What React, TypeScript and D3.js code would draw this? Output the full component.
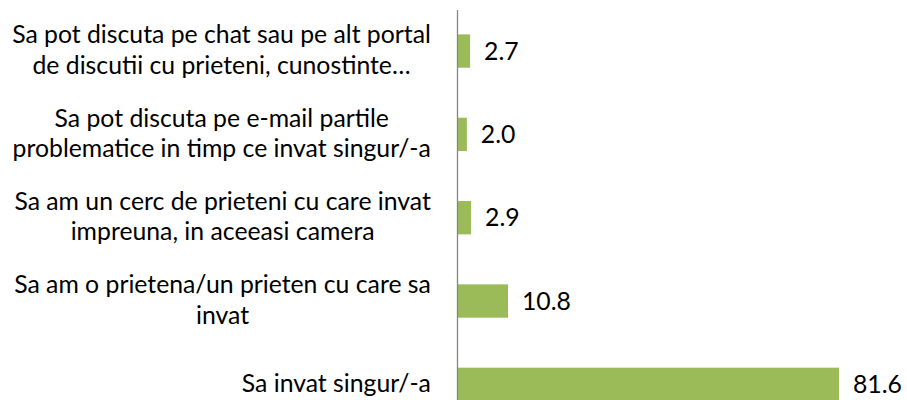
import React, { useEffect, useRef } from "react";
import * as d3 from "d3";

const categories = [
  "Sa pot discuta pe chat sau pe alt portal de discutii cu prieteni, cunostinte…",
  "Sa pot discuta pe e-mail partile problematice in timp ce invat singur/-a",
  "Sa am un cerc de prieteni cu care invat impreuna, in aceeasi camera",
  "Sa am o prietena/un prieten cu care sa invat",
  "Sa invat singur/-a",
];
const categoryLines = [
  ["Sa pot discuta pe chat sau pe alt portal", "de discutii cu prieteni, cunostinte…"],
  ["Sa pot discuta pe e-mail partile", "problematice in timp ce invat singur/-a"],
  ["Sa am un cerc de prieteni cu care invat", "impreuna, in aceeasi camera"],
  ["Sa am o prietena/un prieten cu care sa", "invat"],
  ["Sa invat singur/-a"],
];
const values = [2.7, 2.0, 2.9, 10.8, 81.6];

const W = 907;
const H = 400;
const FONT = "Lato, Carlito, Calibri, 'Open Sans', sans-serif";

function draw(el: SVGSVGElement) {
  const svg = d3.select(el);
  svg.selectAll("*").remove();

  const axisX = 457.5;
  const x = d3.scaleLinear().domain([0, 100]).range([axisX, axisX + 467.5]);
  const y = d3
    .scaleBand<string>()
    .domain(categories)
    .range([9.4, 426])
    .paddingInner(0.6)
    .paddingOuter(0.3);

  const fs = 24.5;
  const lineH = 30.5;

  const probe = svg
    .append("text")
    .attr("font-family", FONT)
    .attr("font-size", fs)
    .text(categoryLines[0][0]);
  const w0 = (probe.node() as SVGTextElement).getComputedTextLength();
  probe.remove();
  const sx = w0 > 0 ? Math.max(0.9, Math.min(1.05, 419 / w0)) : 1;

  svg
    .append("g")
    .selectAll("rect")
    .data(values)
    .join("rect")
    .attr("x", x(0))
    .attr("y", (_, i) => y(categories[i])!)
    .attr("width", (d) => x(d) - x(0))
    .attr("height", y.bandwidth())
    .attr("fill", "#9BBB59");

  svg
    .append("line")
    .attr("x1", axisX)
    .attr("x2", axisX)
    .attr("y1", 10)
    .attr("y2", H)
    .attr("stroke", "#868686")
    .attr("stroke-width", 1.3);

  svg
    .append("g")
    .selectAll("text")
    .data(values)
    .join("text")
    .attr(
      "transform",
      (d, i) =>
        `translate(${x(d) + 14},${y(categories[i])! + y.bandwidth() / 2 + 8.5}) scale(${sx},1)`
    )
    .attr("font-family", FONT)
    .attr("font-size", fs)
    .attr("fill", "#000")
    .text((d) => d.toFixed(1));

  const rightEdge = 431;
  categories.forEach((c, i) => {
    const lines = categoryLines[i];
    const cy = y(c)! + y.bandwidth() / 2;
    const g = svg.append("g");
    const texts = lines.map((ln) =>
      g
        .append("text")
        .attr("font-family", FONT)
        .attr("font-size", fs)
        .attr("fill", "#000")
        .attr("text-anchor", "middle")
        .text(ln)
    );
    const widths = texts.map((t) => (t.node() as SVGTextElement).getComputedTextLength() * sx);
    const bw = Math.max(...widths);
    const cx = rightEdge - bw / 2;
    texts.forEach((t, j) =>
      t.attr(
        "transform",
        `translate(${cx},${cy + (j - (lines.length - 1) / 2) * lineH + 7.5}) scale(${sx},1)`
      )
    );
  });
}

export default function App() {
  const ref = useRef<SVGSVGElement | null>(null);

  useEffect(() => {
    const el = ref.current;
    if (!el) return;
    draw(el);
    const fonts = (document as any).fonts;
    if (fonts && fonts.load) {
      fonts
        .load(`24px Lato`)
        .then(() => fonts.ready)
        .then(() => {
          if (ref.current) draw(ref.current);
        })
        .catch(() => {});
    }
  }, []);

  return (
    <svg
      ref={ref}
      width={W}
      height={H}
      style={{ position: "absolute", left: 0, top: 0, background: "#fff" }}
    />
  );
}
